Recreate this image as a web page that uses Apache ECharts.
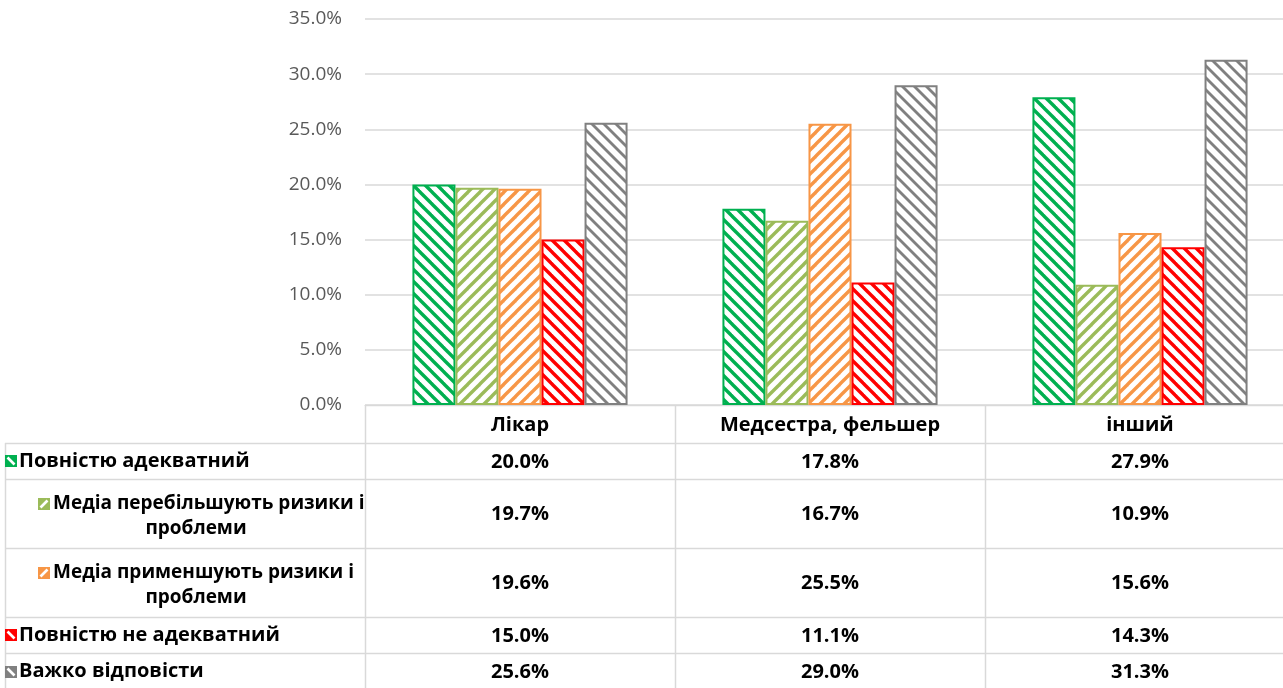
<!DOCTYPE html>
<html>
<head>
<meta charset="utf-8">
<style>
  html, body { margin: 0; padding: 0; background: #ffffff; }
  #chart { width: 1283px; height: 688px; }
</style>
<script src="https://cdn.jsdelivr.net/npm/echarts@6/dist/echarts.min.js"></script>
</head>
<body>
<div id="chart"></div>
<script>
// Categories (respondent groups)
const categories = ['Лікар', 'Медсестра, фельшер', 'інший'];

// Series names
const seriesNames = [
  'Повністю адекватний',
  'Медіа перебільшують ризики і проблеми',
  'Медіа применшують ризики і проблеми',
  'Повністю не адекватний',
  'Важко відповісти'
];
// Series names split into lines for the data table
const seriesLabelLines = [
  ['Повністю адекватний'],
  ['Медіа перебільшують ризики і', 'проблеми'],
  ['Медіа применшують ризики і', 'проблеми'],
  ['Повністю не адекватний'],
  ['Важко відповісти']
];

// Values, percent
const fullyAdequate   = [20.0, 17.8, 27.9];
const mediaExaggerate = [19.7, 16.7, 10.9];
const mediaDownplay   = [19.6, 25.5, 15.6];
const fullyInadequate = [15.0, 11.1, 14.3];
const hardToSay       = [25.6, 29.0, 31.3];
const seriesValues = [fullyAdequate, mediaExaggerate, mediaDownplay, fullyInadequate, hardToSay];

// Value axis ticks (percent)
const yMin = 0, yMax = 35, yStep = 5;

const colors = ['#00b050', '#9bbb59', '#f79646', '#ff0000', '#808080'];
// hatch direction: 'down' = \ , 'up' = /
const hatchDir = ['down', 'up', 'up', 'down', 'down'];
const hatchWidth = [3.4, 3.4, 3.4, 3.4, 2.8];

function makeHatch(color, dir, lw) {
  const s = 12;
  const c = document.createElement('canvas');
  c.width = s; c.height = s;
  const ctx = c.getContext('2d');
  ctx.fillStyle = '#ffffff';
  ctx.fillRect(0, 0, s, s);
  ctx.strokeStyle = color;
  ctx.lineWidth = lw;
  for (let k = -1; k <= 1; k++) {
    ctx.beginPath();
    if (dir === 'down') {
      ctx.moveTo(k * s - 2, -2);
      ctx.lineTo(k * s + s + 2, s + 2);
    } else {
      ctx.moveTo(k * s - 2, s + 2);
      ctx.lineTo(k * s + s + 2, -2);
    }
    ctx.stroke();
  }
  return c;
}

function makeKey(color, dir) {
  const s = 12;
  const c = document.createElement('canvas');
  c.width = s; c.height = s;
  const ctx = c.getContext('2d');
  ctx.fillStyle = color;
  ctx.fillRect(0, 0, s, s);
  ctx.strokeStyle = '#ffffff';
  ctx.lineWidth = 2.6;
  ctx.beginPath();
  if (dir === 'down') {
    ctx.moveTo(2.5, 2.5); ctx.lineTo(9.5, 9.5);
  } else {
    ctx.moveTo(2.5, 9.5); ctx.lineTo(9.5, 2.5);
  }
  ctx.stroke();
  return c;
}

const chart = echarts.init(document.getElementById('chart'), null, { renderer: 'canvas' });

// plot area runs past the right edge of the page
const gridLeft = 365, gridTop = 19, gridHeight = 386, gridWidth = 930;

const series = seriesNames.map((name, i) => ({
  name: name,
  type: 'bar',
  data: seriesValues[i],
  barGap: '0%',
  barCategoryGap: '30.6%',
  itemStyle: {
    color: { image: makeHatch(colors[i], hatchDir[i], hatchWidth[i]), repeat: 'repeat' },
    borderColor: colors[i],
    borderWidth: 2
  },
  emphasis: { disabled: true }
}));

chart.setOption({
  animation: false,
  backgroundColor: '#ffffff',
  grid: {
    left: gridLeft, top: gridTop, width: gridWidth, height: gridHeight,
    containLabel: false, outerBoundsMode: 'none'
  },
  xAxis: {
    type: 'category',
    data: categories,
    axisLine: { show: true, lineStyle: { color: '#d9d9d9', width: 1 } },
    axisTick: { show: false },
    axisLabel: { show: false }
  },
  yAxis: {
    type: 'value',
    min: yMin, max: yMax, interval: yStep,
    axisLine: { show: false },
    axisTick: { show: false },
    splitLine: { lineStyle: { color: '#d9d9d9', width: 1.5 } },
    axisLabel: {
      color: '#595959',
      fontFamily: 'Open Sans',
      fontSize: 19,
      margin: 23,
      formatter: v => v.toFixed(1) + '%'
    }
  },
  series: series
});

// Data table below the plot
const lineColor = '#d9d9d9';
const headerTop = 405;
const rowEdges = [443, 479, 548, 617, 653, 690];
const tableLeft = 5;
const tableRight = 1300;
const cellFont = 'bold 20px "Open Sans"';
const legendFont = 'bold 20px "Open Sans"';
const wrappedLegendFont = 'bold 19px "Open Sans"';

const colCenters = categories.map((c, j) => chart.convertToPixel({ xAxisIndex: 0 }, j));
const catWidth = colCenters.length > 1 ? colCenters[1] - colCenters[0] : 300;
const colEdges = colCenters.map(x => x - catWidth / 2).concat([colCenters[colCenters.length - 1] + catWidth / 2]);

const g = [];
function hLine(x1, x2, y) {
  g.push({ type: 'line', silent: true, shape: { x1: x1, y1: y + 0.5, x2: x2, y2: y + 0.5 }, style: { stroke: lineColor, lineWidth: 1.5 } });
}
function vLine(x, y1, y2) {
  g.push({ type: 'line', silent: true, shape: { x1: x + 0.5, y1: y1, x2: x + 0.5, y2: y2 }, style: { stroke: lineColor, lineWidth: 1.5 } });
}
function text(str, x, y, align, f) {
  g.push({ type: 'text', silent: true, x: x, y: y, style: { text: str, font: f || cellFont, fill: '#000000', align: align || 'center', verticalAlign: 'middle' } });
}

hLine(colEdges[0], tableRight, headerTop);
rowEdges.forEach(y => hLine(tableLeft, tableRight, y));
vLine(tableLeft, rowEdges[0], 690);
colEdges.forEach(x => vLine(x, headerTop, 690));

// header row
categories.forEach((c, j) => text(c, colCenters[j], (headerTop + rowEdges[0]) / 2 + 1));

// body rows
seriesNames.forEach((name, i) => {
  const top = rowEdges[i], bot = rowEdges[i + 1];
  const cy = (top + bot) / 2;
  const lines = seriesLabelLines[i];
  if (lines.length === 1) {
    g.push({ type: 'image', silent: true, x: 5, y: Math.round(cy - 6), style: { image: makeKey(colors[i], hatchDir[i]), width: 12, height: 12 } });
    text(lines[0], 19, cy, 'left', legendFont);
  } else {
    const y1 = cy - 10, y2 = cy + 15;
    g.push({ type: 'image', silent: true, x: 38, y: Math.round(y1 - 6), style: { image: makeKey(colors[i], hatchDir[i]), width: 12, height: 12 } });
    text(lines[0], 53, y1, 'left', wrappedLegendFont);
    text(lines[1], 196, y2, 'center', wrappedLegendFont);
  }
  seriesValues[i].forEach((v, j) => text(v.toFixed(1) + '%', colCenters[j], cy + 1));
});

chart.setOption({ graphic: { elements: g } });
</script>
</body>
</html>
